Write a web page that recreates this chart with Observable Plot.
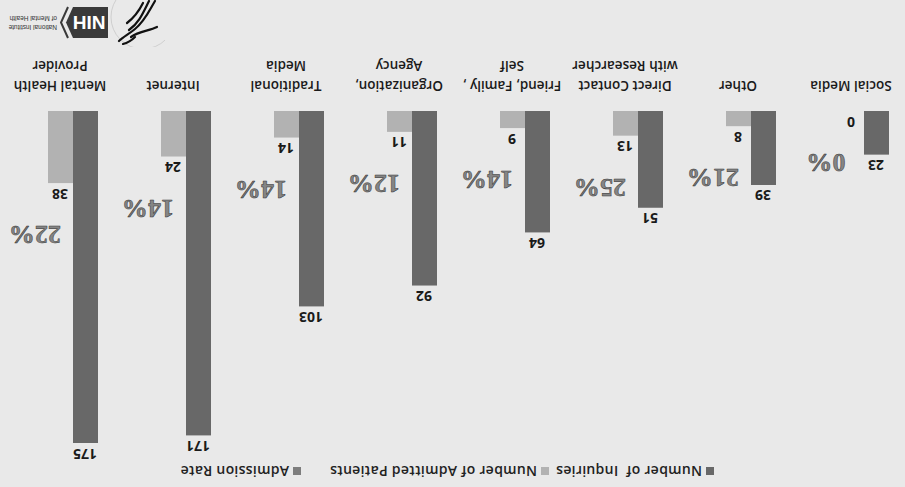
<!DOCTYPE html>
<html>
<head>
<meta charset="utf-8">
<script src="https://cdn.jsdelivr.net/npm/d3@7"></script>
<script src="https://cdn.jsdelivr.net/npm/@observablehq/plot@0.6"></script>
<style>
  html, body { margin: 0; padding: 0; background: #e9e9e9; overflow: hidden; }
  #root {
    position: relative; width: 905px; height: 487px; overflow: hidden;
    transform: rotate(180deg); transform-origin: 50% 50%;
    background: #e9e9e9;
    font-family: "Open Sans", sans-serif;
  }
  #legend { position: absolute; left: 0; top: 0; width: 905px; height: 30px; }
  .item { position: absolute; top: 7px; font-size: 14px; font-weight: 600; color: #222; white-space: pre; line-height: 18px; letter-spacing: 0.3px; }
  .sw { position: absolute; top: 12px; width: 8px; height: 8px; }
  #chart svg { display: block; }
  #logo { position: absolute; left: 740px; top: 440px; }
</style>
</head>
<body>
<div id="root">
  <div id="chart"></div>
  <div id="legend"></div>
  <svg id="logo" width="165" height="47"></svg>
</div>
<script>
const categories = [
  "Social Media",
  "Other",
  "Direct Contact\nwith Researcher",
  "Friend, Family ,\nSelf",
  "Organization,\nAgency",
  "Traditional\nMedia",
  "Internet",
  "Mental Health\nProvider"
];
const inquiries = [23, 39, 51, 64, 92, 103, 171, 175];
const admitted  = [0, 8, 13, 9, 11, 14, 24, 38];
const admissionRate = ["0%", "21%", "25%", "14%", "12%", "14%", "14%", "22%"];
const seriesKeys = ["inq", "adm", "rate"];
const seriesNames = ["Number of  Inquiries", "Number of Admitted Patients", "Admission Rate"];
const seriesColors = ["#686868", "#b2b2b2", "#7d7d7d"];

const bars = categories.flatMap((c, i) => [
  {cat: c, series: "inq", value: inquiries[i]},
  {cat: c, series: "adm", value: admitted[i]}
]);
const rates = categories.map((c, i) => ({cat: c, series: "rate", adm: admitted[i], label: admissionRate[i]}));

const chart = Plot.plot({
  width: 905,
  height: 487,
  marginLeft: 13,
  marginRight: 20,
  marginTop: 44,
  marginBottom: 111,
  style: {background: "transparent", fontFamily: "'Open Sans', sans-serif"},
  fx: {domain: categories, paddingInner: 0.34, paddingOuter: 0, label: null},
  x: {domain: seriesKeys, padding: 0, axis: null},
  y: {domain: [0, 175], axis: null},
  color: {domain: seriesKeys, range: seriesColors},
  marks: [
    Plot.barY(bars, {fx: "cat", x: "series", y: "value", fill: "series"}),
    Plot.text(bars, {fx: "cat", x: "series", y: "value", text: d => String(d.value),
      lineAnchor: "bottom", dy: -6, fontSize: 14, fontWeight: 700, fill: "#1a1a1a"}),
    Plot.text(rates, {fx: "cat", x: "series", y: "adm", text: "label",
      dy: -52, fontSize: 26, fontWeight: 700, fontFamily: "'Liberation Serif', serif",
      fill: "#858585", stroke: "#333", strokeWidth: 0.5, paintOrder: "fill"}),
    Plot.axisFx({anchor: "bottom", tickSize: 0, tickPadding: 15, fontSize: 13.5, fontWeight: 600,
      lineHeight: 1.5, fill: "#1a1a1a", label: null})
  ]
});
document.getElementById("chart").appendChild(chart);

// legend
const legend = document.getElementById("legend");
const swLeft = [191, 356, 604];
seriesNames.forEach((name, i) => {
  const sw = document.createElement("div");
  sw.className = "sw";
  sw.style.left = swLeft[i] + "px";
  sw.style.background = seriesColors[i];
  legend.appendChild(sw);
  const t = document.createElement("div");
  t.className = "item";
  t.style.left = (swLeft[i] + 12) + "px";
  t.textContent = name;
  legend.appendChild(t);
});

// logo (decoration)
const logo = d3.select("#logo");
logo.append("circle").attr("cx", 22).attr("cy", 30).attr("r", 32)
  .attr("fill", "none").attr("stroke", "#cfcfcf").attr("stroke-width", 1);
const sw = [
  "M10,46 C16,36 20,26 30,18 C36,13 42,10 46,6",
  "M16,46 C22,34 26,24 36,17",
  "M22,44 C26,36 30,30 38,24",
  "M8,20 C16,16 26,16 34,10",
  "M30,10 C34,6 38,4 42,3"
];
sw.forEach(d => logo.append("path").attr("d", d).attr("fill", "none")
  .attr("stroke", "#111").attr("stroke-width", 2.2).attr("stroke-linecap", "round"));
logo.append("path").attr("d", "M57,9 H92 L99,24.5 L92,40 H57 Z").attr("fill", "#3a3a3a");
logo.append("path").attr("d", "M97,9 L104,24.5 L97,40").attr("fill", "none")
  .attr("stroke", "#3a3a3a").attr("stroke-width", 2);
logo.append("text").attr("x", 76).attr("y", 31.5).attr("text-anchor", "middle")
  .attr("font-family", "'Liberation Sans', sans-serif").attr("font-weight", 700)
  .attr("font-size", 19).attr("fill", "#fff").text("NIH");
logo.append("text").attr("x", 108).attr("y", 22).attr("font-size", 6.5)
  .attr("font-family", "'Liberation Sans', sans-serif").attr("fill", "#333").text("National Institute");
logo.append("text").attr("x", 108).attr("y", 31).attr("font-size", 6.5)
  .attr("font-family", "'Liberation Sans', sans-serif").attr("fill", "#333").text("of Mental Health");
</script>
</body>
</html>
